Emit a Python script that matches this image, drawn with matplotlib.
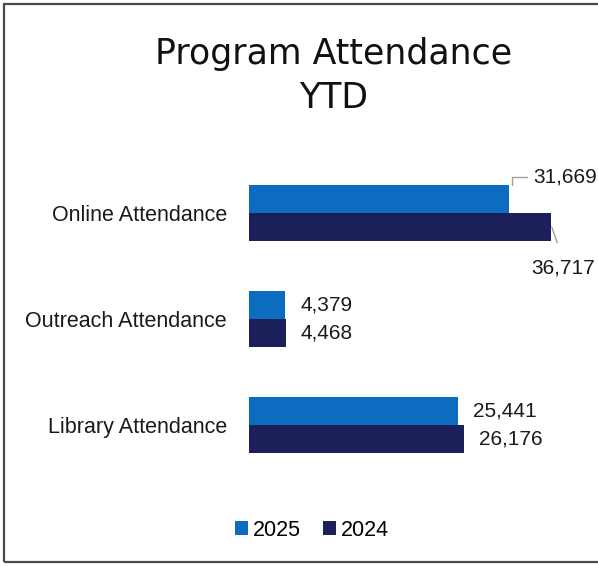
import matplotlib.pyplot as plt
from matplotlib.patches import Rectangle

categories = ["Library Attendance", "Outreach Attendance", "Online Attendance"]
values_2025 = [25441, 4379, 31669]
values_2024 = [26176, 4468, 36717]
series_labels = ["2025", "2024"]
colors = ["#0b6cc0", "#1b1f5a"]

plt.rcParams['font.family'] = ['Liberation Sans', 'DejaVu Sans']

fig = plt.figure(figsize=(5.98, 5.66), dpi=100)

# outer frame like the scanned chart box
fig.patches.append(Rectangle((4 / 598, 4 / 566), 1.2, 1 - 8 / 566, transform=fig.transFigure,
                             fill=False, edgecolor='#4a4a4a', linewidth=1.6))

ax = fig.add_axes([249 / 598, 1 - 478 / 566, 329 / 598, 318 / 566])
h = 0.264
y = list(range(len(categories)))
ax.barh([v + h / 2 for v in y], values_2025, height=h, color=colors[0], label=series_labels[0])
ax.barh([v - h / 2 for v in y], values_2024, height=h, color=colors[1], label=series_labels[1])
ax.set_xlim(0, 40000)
ax.set_ylim(-0.5, 2.5)
ax.set_yticks(y)
ax.set_yticklabels(categories, fontsize=15.5, color='#1a1a1a')
ax.tick_params(axis='y', length=0, pad=16)
ax.set_xticks([])
for s in ax.spines.values():
    s.set_visible(False)

# labels placed next to bars for the two shorter categories
for i in range(2):
    ax.annotate(f"{values_2025[i]:,}", (values_2025[i], y[i] + h / 2), xytext=(15, 0),
                textcoords='offset pixels', va='center', ha='left', fontsize=15, color='#1a1a1a')
    ax.annotate(f"{values_2024[i]:,}", (values_2024[i], y[i] - h / 2), xytext=(15, 0),
                textcoords='offset pixels', va='center', ha='left', fontsize=15, color='#1a1a1a')

# online labels with leader lines
ax.annotate(f"{values_2025[2]:,}", (values_2025[2] + 250, y[2] + h), xytext=(22, 8),
            textcoords='offset pixels', va='center', ha='left', fontsize=15, color='#1a1a1a',
            annotation_clip=False,
            arrowprops=dict(arrowstyle='-', color='#a0a0a0', lw=1,
                            connectionstyle='angle,angleA=0,angleB=90,rad=0',
                            relpos=(0, 0.5), shrinkA=3, shrinkB=0))
ax.annotate(f"{values_2024[2]:,}", (values_2024[2] + 100, y[2] - h / 2), xytext=(-21, -41),
            textcoords='offset pixels', va='center', ha='left', fontsize=15, color='#1a1a1a',
            annotation_clip=False,
            arrowprops=dict(arrowstyle='-', color='#a0a0a0', lw=1,
                            relpos=(0.5, 1), shrinkA=10, shrinkB=0))

fig.text(334 / 598, 1 - 76 / 566, "Program Attendance\nYTD", ha='center', va='center',
         fontsize=25, family=['DejaVu Sans'], color='#111111', linespacing=1.4)

fig.legend(loc='center', bbox_to_anchor=(312 / 598, 1 - 530 / 566), ncol=2, frameon=False,
           fontsize=15.5, handlelength=0.6, handleheight=0.6, handletextpad=0.25, columnspacing=1.0)

fig.savefig("out.png", dpi=100)
